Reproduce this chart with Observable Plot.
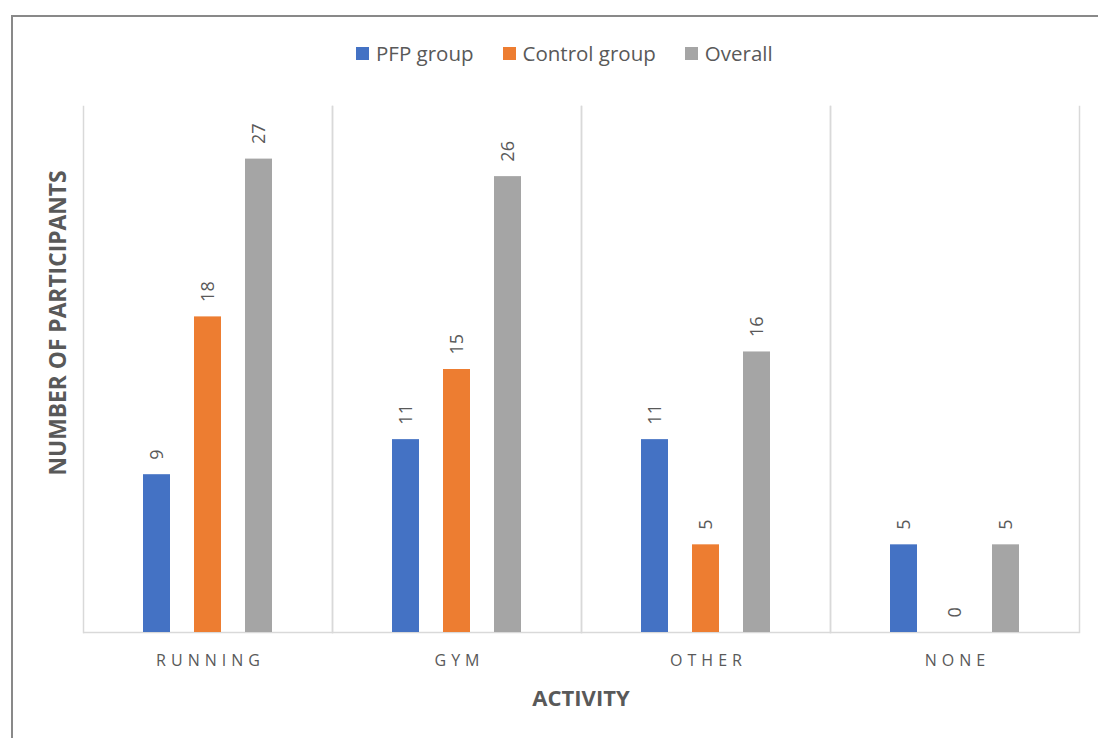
<!DOCTYPE html>
<html>
<head>
<meta charset="utf-8">
<script src="https://cdn.jsdelivr.net/npm/d3@7"></script>
<script src="https://cdn.jsdelivr.net/npm/@observablehq/plot@0.6"></script>
<style>
  html, body { margin: 0; padding: 0; background: #fff; }
  #page { position: relative; width: 1098px; height: 738px; overflow: hidden; font-family: "Open Sans", sans-serif; color: #595959; }
  #chart { position: absolute; left: 0; top: 0; }
  #frame { position: absolute; left: 11px; top: 15px; width: 1200px; height: 800px; border: 2px solid #898989; pointer-events: none; }
  #legend { position: absolute; left: 356px; top: 39px; display: flex; align-items: center; font-size: 20.5px; white-space: nowrap; }
  #legend .item { display: flex; align-items: center; margin-right: 29px; }
  #legend .sw { width: 13px; height: 13px; margin-right: 7px; }
  #ytitle { position: absolute; left: 57px; top: 323px; transform: translate(-50%, -50%) rotate(-90deg); font-weight: 700; font-size: 22.8px; white-space: nowrap; }
  #xtitle { position: absolute; left: 581px; top: 697px; transform: translate(-50%, -50%); font-weight: 700; font-size: 22px; white-space: nowrap; }
  #chart g[aria-label="fx-axis tick label"] text { letter-spacing: 5px; }
</style>
</head>
<body>
<div id="page">
  <div id="chart"></div>
  <div id="frame"></div>
  <div id="legend"></div>
  <div id="ytitle">NUMBER OF PARTICIPANTS</div>
  <div id="xtitle">ACTIVITY</div>
</div>
<script>
const activities = ["RUNNING", "GYM", "OTHER", "NONE"];
const groups = ["PFP group", "Control group", "Overall"];
const pfpValues = [9, 11, 11, 5];
const controlValues = [18, 15, 5, 0];
const overallValues = [27, 26, 16, 5];
const colors = ["#4472C4", "#ED7D31", "#A5A5A5"];

const seriesValues = [pfpValues, controlValues, overallValues];
const data = [];
activities.forEach((a, i) => {
  groups.forEach((g, j) => {
    data.push({activity: a, group: g, value: seriesValues[j][i]});
  });
});

const chart = Plot.plot({
  width: 1098,
  height: 738,
  marginLeft: 82,
  marginRight: 18,
  marginTop: 106,
  marginBottom: 106,
  style: {fontFamily: "'Open Sans', sans-serif", color: "#595959", background: "transparent"},
  fx: {domain: activities, padding: 0, label: null},
  x: {domain: groups, paddingInner: 0.476, paddingOuter: 1.16, axis: null},
  y: {domain: [0, 30], axis: null},
  color: {domain: groups, range: colors},
  marks: [
    Plot.frame({anchor: "left", stroke: "#d9d9d9", strokeWidth: 1.5}),
    Plot.frame({anchor: "right", stroke: "#d9d9d9", strokeWidth: 1.5}),
    Plot.ruleY([0], {stroke: "#d9d9d9", strokeWidth: 1.5}),
    Plot.barY(data, {fx: "activity", x: "group", y: "value", fill: "group"}),
    Plot.text(data, {
      fx: "activity", x: "group", y: "value",
      text: d => String(d.value),
      rotate: -90, textAnchor: "start", lineAnchor: "middle",
      dy: -15, fill: "#595959", fontSize: 18
    }),
    Plot.axisFx({anchor: "bottom", tickSize: 0, tickPadding: 22, fontSize: 16, label: null, fill: "#595959", dx: 2.5})
  ]
});
document.getElementById("chart").appendChild(chart);

const legend = document.getElementById("legend");
groups.forEach((g, i) => {
  const item = document.createElement("div");
  item.className = "item";
  const sw = document.createElement("div");
  sw.className = "sw";
  sw.style.background = colors[i];
  const label = document.createElement("span");
  label.textContent = g;
  item.appendChild(sw);
  item.appendChild(label);
  legend.appendChild(item);
});
</script>
</body>
</html>
